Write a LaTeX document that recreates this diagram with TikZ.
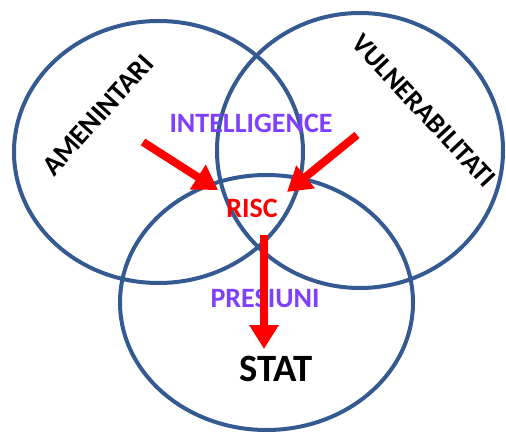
\documentclass[tikz,border=0pt]{standalone}
\usepackage{fontspec}
\setmainfont{Carlito}
\usetikzlibrary{arrows.meta}

\definecolor{ringblue}{RGB}{52,90,145}
\definecolor{labelviolet}{RGB}{127,63,255}

\tikzset{
  ring/.style = {color = ringblue, line width = 3pt},
  bigarrow/.style = {color = red, line width = 6pt, -{Triangle[length = 18pt, width = 21pt]}},
  word/.style = {inner sep = 0pt, font = \bfseries\fontsize{21}{21}\selectfont}
}

\begin{document}
\begin{tikzpicture}[x = 0.75pt, y = -0.75pt]
        \useasboundingbox (0, 0) rectangle (506, 434);
        % the three rings
        \draw[ring] (158.5, 152) ellipse [x radius = 144.5, y radius = 131];
        \draw[ring] (360, 150.5) ellipse [x radius = 143, y radius = 137.5];
        \draw[ring] (266.5, 302.5) ellipse [x radius = 146.5, y radius = 127.5];
        % labels
        \node[word, rotate = 48] (amen) at (98, 115) {AMENINTARI};
        \node[word, rotate = -47, font = \bfseries\fontsize{20.5}{20.5}\selectfont] (vuln) at (424, 111) {VULNERABILITATI};
        \node[word, color = labelviolet] (intel) at (251, 123) {INTELLIGENCE};
        \node[word, color = red] (risc) at (252, 208) {RISC};
        \node[word, color = labelviolet] (pres) at (265, 298) {PRESIUNI};
        \node[word, font = \bfseries\fontsize{29}{29}\selectfont] (stat) at (276, 369) {STAT};
        % arrows
        \coordinate (lefttail) at (143, 142);
        \coordinate (lefttip) at (218, 190);
        \coordinate (righttail) at (357, 135);
        \coordinate (righttip) at (287, 192);
        \coordinate (downtail) at (264, 235);
        \coordinate (downtip) at (264, 349);
        \draw[bigarrow] (lefttail) -- (lefttip);
        \draw[bigarrow] (righttail) -- (righttip);
        \draw[bigarrow] (downtail) -- (downtip);
    \end{tikzpicture}
\end{document}
